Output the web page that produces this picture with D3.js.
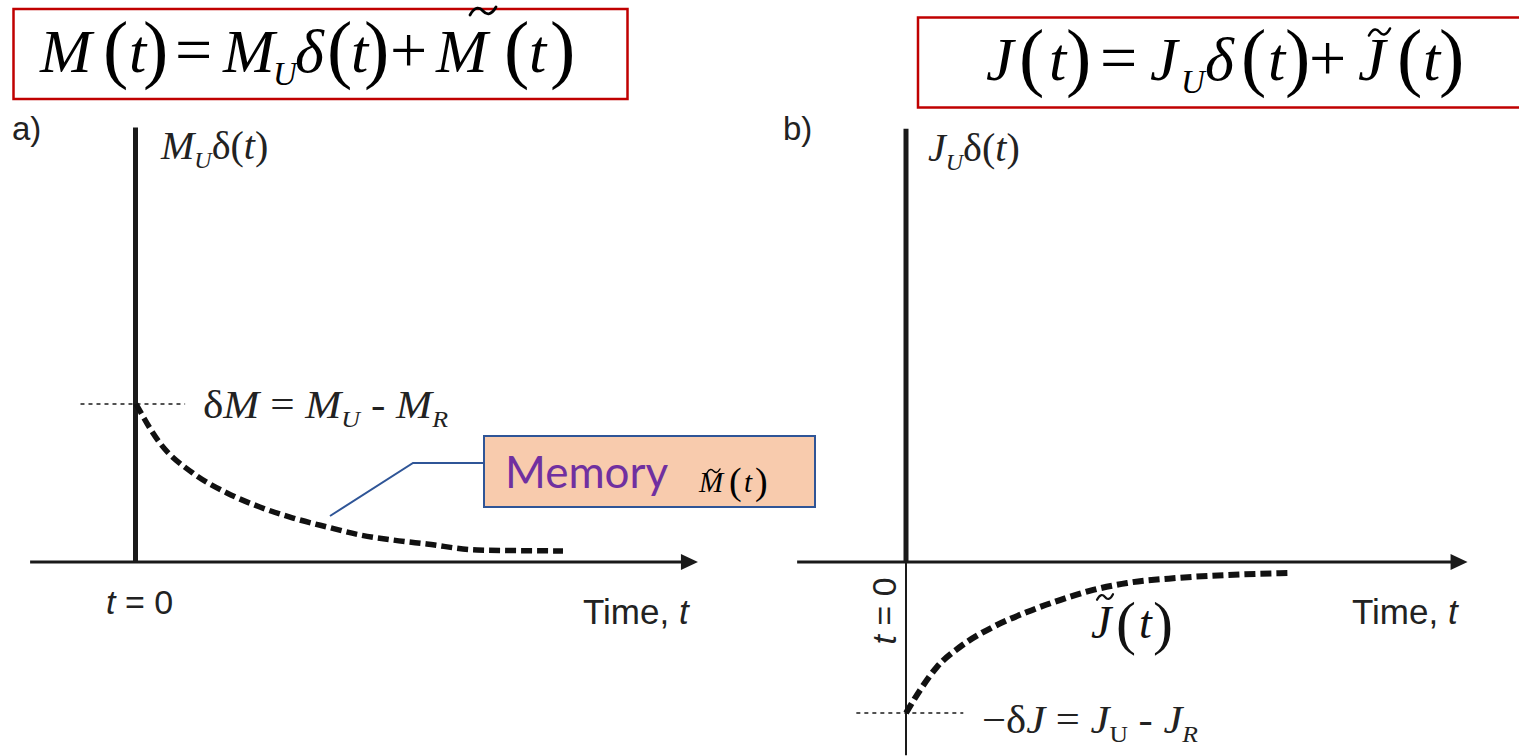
<!DOCTYPE html>
<html>
<head>
<meta charset="utf-8">
<script src="https://cdn.jsdelivr.net/npm/d3@7"></script>
<style>
  html, body { margin: 0; padding: 0; background: #fff; }
  svg { display: block; }
</style>
</head>
<body>
<svg id="chart" width="1519" height="756"></svg>
<script>
// ---------------- data ----------------
// panel a: memory function M~(t), normalised so that deltaM = 1
const timeA = [0, 0.56, 1.33, 2.13, 2.9, 3.68, 4.47, 5.25, 6.02, 6.81, 7.99, 10];
const memoryA = [1.0, 0.753, 0.563, 0.437, 0.348, 0.278, 0.222, 0.171, 0.139, 0.114, 0.076, 0.07];
// panel b: J~(t), normalised so that -deltaJ = -1
const timeB = [0, 0.37, 0.81, 1.41, 2.28, 3.17, 4.03, 4.9, 5.79, 7.09, 8.4, 10];
const memoryB = [-1, -0.848, -0.695, -0.563, -0.43, -0.331, -0.252, -0.185, -0.139, -0.106, -0.086, -0.073];
// delta spike heights (drawn as the upward bar at t = 0)
const spikeA = 2.75;
const spikeB = 2.87;
// time axis extents
const axisTimeA = [-2.48, 13.16];
const axisTimeB = [-2.85, 14.7];
const lowerTimeB = -1.28;   // thin t=0 line continues below the axis in panel b
const levelA = 1;            // deltaM
const levelB = -1;           // -deltaJ

// ---------------- scales ----------------
const xA = d3.scaleLinear().domain([0, 10]).range([136, 563]);
const yA = d3.scaleLinear().domain([0, 1]).range([562, 404]);
const xB = d3.scaleLinear().domain([0, 10]).range([906, 1288]);
const yB = d3.scaleLinear().domain([0, -1]).range([562, 713]);

const svg = d3.select("#chart");
const ink = "#1a1a1a";
const serif = "'Liberation Serif', 'Times New Roman', serif";
const sans = "'Liberation Sans', Arial, sans-serif";

// ---------- helpers ----------
function arrowAxis(x, y, t0, t1) {
  const xs = x(t0), xe = x(t1), yy = y(0);
  svg.append("line").attr("x1", xs).attr("x2", xe - 10).attr("y1", yy).attr("y2", yy)
    .attr("stroke", ink).attr("stroke-width", 3);
  svg.append("path").attr("d", `M${xe},${yy} L${xe - 17},${yy - 8} L${xe - 17},${yy + 8} Z`)
    .attr("fill", ink);
}
function pieces(list, fill) {
  const t = svg.append("text").attr("fill", fill || "#000").style("font-family", serif);
  list.forEach(p => {
    t.append("tspan").attr("x", p[1]).attr("y", p[2])
      .style("font-size", p[3] + "px")
      .style("font-style", p[4] ? "italic" : "normal")
      .text(p[0]);
  });
  return t;
}
function tilde(x0, cy, w, a, sw, col) {
  const p = d3.path();
  p.moveTo(x0, cy + a);
  p.bezierCurveTo(x0 + w * 0.2, cy - a * 1.3, x0 + w * 0.38, cy - a * 0.9, x0 + w * 0.5, cy);
  p.bezierCurveTo(x0 + w * 0.62, cy + a * 0.9, x0 + w * 0.8, cy + a * 1.3, x0 + w, cy - a);
  svg.append("path").attr("d", p.toString()).attr("fill", "none")
    .attr("stroke", col || "#000").attr("stroke-width", sw).attr("stroke-linecap", "round");
}

// ---------------- formula boxes ----------------
svg.append("rect").attr("x", 13.5).attr("y", 9).attr("width", 614).attr("height", 90)
  .attr("fill", "none").attr("stroke", "#c00000").attr("stroke-width", 2.5);
svg.append("rect").attr("x", 918).attr("y", 17.5).attr("width", 620).attr("height", 90)
  .attr("fill", "none").attr("stroke", "#c00000").attr("stroke-width", 2.5);

const B1 = 72, P1 = 74, F = 62, O = 66, P = 76, S = 33;
pieces([
  ["M", 40, B1, F, 1], ["(", 103, P1, P, 0], ["t", 129, B1, F, 1], [")", 143, P1, P, 0],
  ["=", 175, B1, O, 0], ["M", 223, B1, F, 1], ["U", 273, B1 + 13, S, 1], ["δ", 295, B1, F, 1],
  ["(", 327, P1, P, 0], ["t", 351, B1, F, 1], [")", 364, P1, P, 0], ["+", 390, B1, O, 0],
  ["M", 436, B1, F, 1], ["(", 504, P1, P, 0], ["t", 529, B1, F, 1], [")", 550, P1, P, 0]
]);
tilde(470, 11, 26, 4, 2.8);

const B2 = 80, P2 = 82;
pieces([
  ["J", 986, B2, F, 1], ["(", 1019, P2, P, 0], ["t", 1049, B2, F, 1], [")", 1066, P2, P, 0],
  ["=", 1100, B2, O, 0], ["J", 1150, B2, F, 1], ["U", 1181, B2 + 13, S, 1], ["δ", 1205, B2, F, 1],
  ["(", 1241, P2, P, 0], ["t", 1268, B2, F, 1], [")", 1285, P2, P, 0], ["+", 1309, B2, O, 0],
  ["J", 1358, B2, F, 1], ["(", 1397, P2, P, 0], ["t", 1423, B2, F, 1], [")", 1439, P2, P, 0]
]);
tilde(1369, 32, 21, 3.5, 2.6);

// ---------------- panel a ----------------
svg.append("text").attr("x", 12).attr("y", 140).attr("fill", "#222")
  .style("font-family", sans).style("font-size", "33px").text("a)");

// dotted level line for deltaM
svg.append("line").attr("x1", xA(-1.3)).attr("x2", xA(1.15)).attr("y1", yA(levelA)).attr("y2", yA(levelA))
  .attr("stroke", ink).attr("stroke-width", 1.5).attr("stroke-dasharray", "4,4");

arrowAxis(xA, yA, axisTimeA[0], axisTimeA[1]);
// delta spike
svg.append("line").attr("x1", xA(0) - 0.5).attr("x2", xA(0) - 0.5).attr("y1", yA(0)).attr("y2", yA(spikeA))
  .attr("stroke", ink).attr("stroke-width", 5);

// memory curve
const lineA = d3.line().x(d => xA(d[0])).y(d => yA(d[1])).curve(d3.curveMonotoneX);
svg.append("path").datum(timeA.map((t, i) => [t, memoryA[i]]))
  .attr("d", lineA).attr("fill", "none").attr("stroke", "#111")
  .attr("stroke-width", 5.5).attr("stroke-dasharray", "11,5");

// labels
const lA = svg.append("text").attr("x", 161).attr("y", 159).attr("fill", "#222")
  .style("font-family", serif).style("font-size", "40px");
lA.append("tspan").style("font-style", "italic").text("M");
lA.append("tspan").style("font-style", "italic").style("font-size", "24px").attr("dy", 9).text("U");
lA.append("tspan").attr("dy", -9).text("δ(");
lA.append("tspan").style("font-style", "italic").text("t");
lA.append("tspan").text(")");

const dM = svg.append("text").attr("x", 203).attr("y", 418).attr("fill", "#222")
  .attr("textLength", 245).attr("lengthAdjust", "spacingAndGlyphs")
  .style("font-family", serif).style("font-size", "40px");
dM.append("tspan").text("δ");
dM.append("tspan").style("font-style", "italic").text("M");
dM.append("tspan").text(" = ");
dM.append("tspan").style("font-style", "italic").text("M");
dM.append("tspan").style("font-style", "italic").style("font-size", "24px").attr("dy", 9).text("U");
dM.append("tspan").attr("dy", -9).text(" - ");
dM.append("tspan").style("font-style", "italic").text("M");
dM.append("tspan").style("font-style", "italic").style("font-size", "24px").attr("dy", 9).text("R");

// callout
svg.append("polyline").attr("points", `330,516 413,463 484,463`)
  .attr("fill", "none").attr("stroke", "#2f5597").attr("stroke-width", 2);
svg.append("rect").attr("x", 484).attr("y", 436).attr("width", 331).attr("height", 71)
  .attr("fill", "#f8cbad").attr("stroke", "#2f5597").attr("stroke-width", 2);
svg.append("text").attr("x", 505).attr("y", 488).attr("fill", "#7030a0")
  .style("font-family", "Lato, 'Open Sans', sans-serif").style("font-size", "44px").text("Memory");
pieces([["M", 699, 492, 29, 1], ["(", 729, 494, 38, 0], ["t", 744, 492, 29, 1], [")", 755, 494, 38, 0]]);
tilde(707, 471, 13, 2, 1.5);

svg.append("text").attr("x", 106).attr("y", 614).attr("fill", "#222")
  .style("font-family", sans).style("font-size", "34px")
  .html('<tspan font-style="italic">t</tspan> = 0');
svg.append("text").attr("x", 583).attr("y", 624).attr("fill", "#222")
  .style("font-family", sans).style("font-size", "35px")
  .html('Time, <tspan font-style="italic">t</tspan>');

// ---------------- panel b ----------------
svg.append("text").attr("x", 783).attr("y", 140).attr("fill", "#222")
  .style("font-family", sans).style("font-size", "33px").text("b)");

svg.append("line").attr("x1", xB(-1.3)).attr("x2", xB(1.5)).attr("y1", yB(levelB)).attr("y2", yB(levelB))
  .attr("stroke", ink).attr("stroke-width", 1.5).attr("stroke-dasharray", "4,4");

arrowAxis(xB, yB, axisTimeB[0], axisTimeB[1]);
svg.append("line").attr("x1", xB(0)).attr("x2", xB(0)).attr("y1", yB(0)).attr("y2", yB(spikeB))
  .attr("stroke", ink).attr("stroke-width", 5);
svg.append("line").attr("x1", xB(0)).attr("x2", xB(0)).attr("y1", yB(0)).attr("y2", yB(lowerTimeB))
  .attr("stroke", ink).attr("stroke-width", 2);

const lineB = d3.line().x(d => xB(d[0])).y(d => yB(d[1])).curve(d3.curveMonotoneX);
svg.append("path").datum(timeB.map((t, i) => [t, memoryB[i]]))
  .attr("d", lineB).attr("fill", "none").attr("stroke", "#111")
  .attr("stroke-width", 6).attr("stroke-dasharray", "11,5");

const lB = svg.append("text").attr("x", 928).attr("y", 161).attr("fill", "#222")
  .style("font-family", serif).style("font-size", "40px");
lB.append("tspan").style("font-style", "italic").text("J");
lB.append("tspan").style("font-style", "italic").style("font-size", "24px").attr("dy", 9).text("U");
lB.append("tspan").attr("dy", -9).text("δ(");
lB.append("tspan").style("font-style", "italic").text("t");
lB.append("tspan").text(")");

const dJ = svg.append("text").attr("x", 982).attr("y", 733).attr("fill", "#222")
  .attr("textLength", 216).attr("lengthAdjust", "spacingAndGlyphs")
  .style("font-family", serif).style("font-size", "40px");
dJ.append("tspan").text("−δ");
dJ.append("tspan").style("font-style", "italic").text("J");
dJ.append("tspan").text(" = ");
dJ.append("tspan").style("font-style", "italic").text("J");
dJ.append("tspan").style("font-size", "24px").attr("dy", 9).text("U");
dJ.append("tspan").attr("dy", -9).text(" - ");
dJ.append("tspan").style("font-style", "italic").text("J");
dJ.append("tspan").style("font-style", "italic").style("font-size", "24px").attr("dy", 9).text("R");

pieces([["J", 1091, 638, 46, 1], ["(", 1116, 643, 60, 0], ["t", 1139, 638, 46, 1], [")", 1153, 643, 60, 0]], "#111");
tilde(1097, 597, 16, 2.8, 2.2, "#111");

svg.append("text").attr("transform", "translate(896,611) rotate(-90)").attr("text-anchor", "middle")
  .attr("fill", "#222").style("font-family", sans).style("font-size", "34px")
  .html('<tspan font-style="italic">t</tspan> = 0');
svg.append("text").attr("x", 1352).attr("y", 624).attr("fill", "#222")
  .style("font-family", sans).style("font-size", "35px")
  .html('Time, <tspan font-style="italic">t</tspan>');
</script>
</body>
</html>
